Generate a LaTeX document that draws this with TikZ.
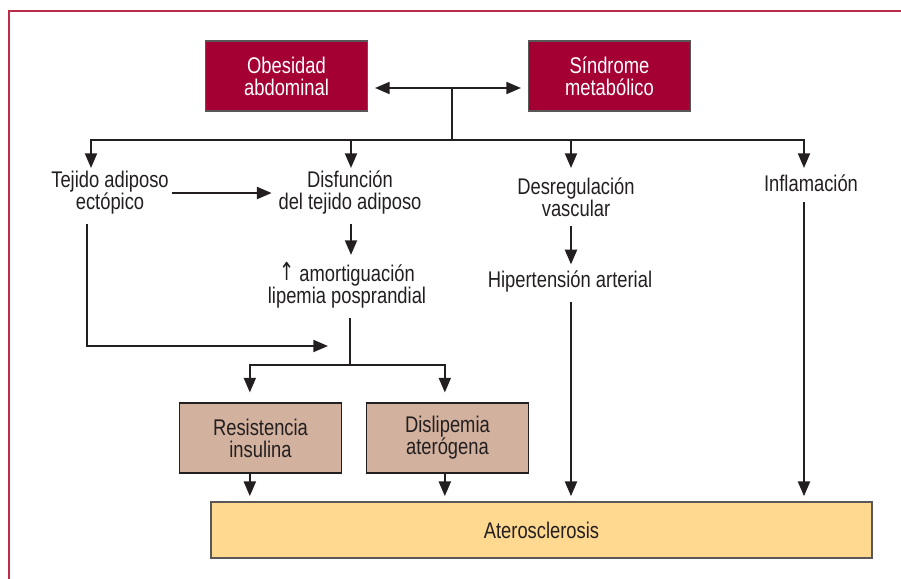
\documentclass[tikz,border=0pt]{standalone}
\usepackage{fontspec}
\usepackage{graphicx}
\setmainfont{Liberation Sans}[FakeStretch=0.81]
\newfontfamily\flecha{DejaVu Sans}
\usetikzlibrary{arrows.meta}

\definecolor{granate}{RGB}{165,0,52}
\definecolor{marron}{RGB}{210,177,158}
\definecolor{amarillo}{RGB}{255,217,144}
\definecolor{tinta}{RGB}{35,31,32}
\definecolor{marco}{RGB}{185,45,75}

\tikzset{
	txt/.style={font=\fontsize{17}{16.5}\selectfont, text=tinta, align=center, inner sep=2pt},
	redbox/.style={txt, draw=tinta!75, line width=0.8pt, fill=granate, text=white, minimum width=122pt, minimum height=52.5pt},
	tanbox/.style={txt, draw=tinta, line width=0.8pt, fill=marron, minimum width=122pt, minimum height=52.5pt},
	yelbox/.style={txt, draw=tinta!75, line width=0.8pt, fill=amarillo, minimum width=495.75pt, minimum height=42pt},
	lin/.style={draw=tinta, line width=1.5pt},
	arr/.style={lin, -{Triangle[length=11pt,width=9pt]}}
}

\begin{document}
\begin{tikzpicture}[x=0.75pt,y=-0.75pt]
	\useasboundingbox (0,0) rectangle (901,579);
	%\draw[help lines] (0,0) grid[step=50] (901,579);
	\draw[marco, line width=0.9pt] (9,579) -- (9,11) -- (901,11);

	% cajas
	\node[redbox] (obes) at (286.5,76) {Obesidad\\abdominal};
	\node[redbox] (sind) at (609.5,76) {Síndrome\\metabólico};
	\node[tanbox] (resis) at (260.5,438) {Resistencia\\insulina};
	\node[tanbox] (dislip) at (447.5,438) {Dislipemia\\aterógena};
	\node[yelbox] (ater) at (541.5,530) {Aterosclerosis};

	% textos
	\node[txt] (ect) at (110,193) {Tejido adiposo\\ectópico};
	\node[txt] (disf) at (350,193) {Disfunción\\del tejido adiposo};
	\node[txt] (desr) at (576,197) {Desregulación\\vascular};
	\node[txt] (infl) at (811,183) {Inflamación};
	\node[txt] (hip) at (570,282) {Hipertensión arterial};
	\node[txt] (amort) at (347,285) {{\flecha\raisebox{1pt}{\scalebox{0.8}[1.1]{↑}}} amortiguación\\lipemia posprandial};

	% puntos de apoyo
	\coordinate (mid) at (452,88);
	\coordinate (hub) at (452,140);
	\coordinate (tect) at (91,168);
	\coordinate (tdisf) at (351,168);
	\coordinate (tdesr) at (571,168);
	\coordinate (tinfl) at (804,168);
	\coordinate (ectdown) at (87,346);
	\coordinate (lipin) at (328,346);
	\coordinate (split) at (350,365);

	% flechas
	\draw[arr] (mid) -- (mid -| obes.east) [shorten >=5pt];
	\draw[arr] (mid) -- (mid -| sind.west) [shorten >=5pt];
	\draw[lin] (mid) -- (hub);
	\draw[arr] (hub) -| (tect);
	\draw[arr] (hub) -| (tdisf);
	\draw[arr] (hub) -| (tdesr);
	\draw[arr] (hub) -| (tinfl);

	\draw[arr, shorten >=3pt] (ect.east) -- (disf.west);
	\draw[arr, shorten <=5pt, shorten >=3pt] (disf.south -| tdisf) -- (tdisf |- amort.north);
	\draw[arr, shorten <=5pt] (ect.south -| ectdown) -- (ectdown) -- (lipin);
	\draw[lin, shorten <=5pt] (amort.south -| split) -- (split);
	\draw[arr] (split) -| ([xshift=-8pt,yshift=7.5pt]resis.north);
	\draw[arr] (split) -| ([xshift=-2pt,yshift=7.5pt]dislip.north);
	\draw[arr, shorten >=4pt] ([xshift=-8pt]resis.south) -- ([xshift=-8pt]resis.south |- ater.north);
	\draw[arr, shorten >=4pt] ([xshift=-2pt]dislip.south) -- ([xshift=-2pt]dislip.south |- ater.north);

	\draw[arr, shorten <=5pt, shorten >=3pt] (desr.south -| tdesr) -- (tdesr |- hip.north);
	\draw[arr, shorten <=5pt, shorten >=4pt] (hip.south -| tdesr) -- (tdesr |- ater.north);
	\draw[arr, shorten <=6pt, shorten >=4pt] (infl.south -| tinfl) -- (tinfl |- ater.north);
\end{tikzpicture}
\end{document}
